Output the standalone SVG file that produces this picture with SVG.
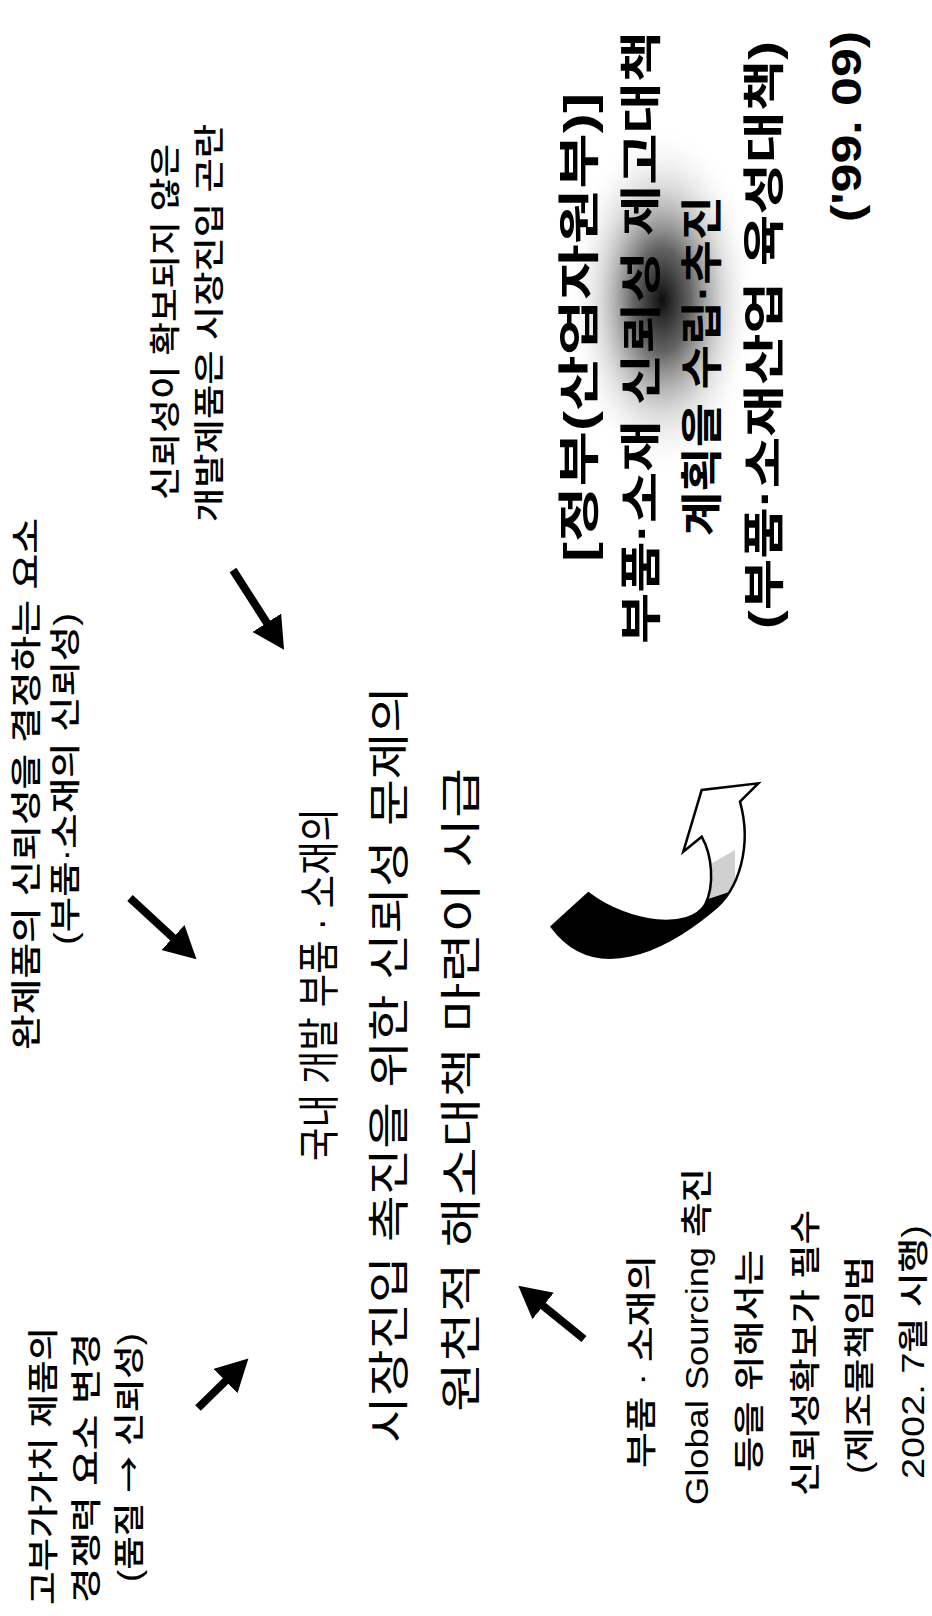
<svg xmlns="http://www.w3.org/2000/svg" width="932" height="1616" viewBox="0 0 932 1616">
<style>
  text { font-family: "Liberation Sans", "Noto Sans CJK KR", sans-serif; fill: #000; }
  .s { font-size: 31px; font-weight: 500; }
  .c { font-size: 42px; }
  .g { font-size: 42px; font-weight: 700; }
  .cjk { font-family: "Noto Sans CJK KR", sans-serif; }
  .arrow { stroke: #000; stroke-width: 8; fill: none; marker-end: url(#ah); }
</style>
<defs>
  <marker id="ah" markerUnits="userSpaceOnUse" markerWidth="34" markerHeight="36" refX="10" refY="17" orient="auto">
    <path d="M0,0 L32,17 L0,34 z" fill="#000"/>
  </marker>
  <radialGradient id="blur" cx="0.5" cy="0.5" r="0.5">
    <stop offset="0" stop-color="#000" stop-opacity="0.95"/>
    <stop offset="0.3" stop-color="#222" stop-opacity="0.7"/>
    <stop offset="0.65" stop-color="#888" stop-opacity="0.3"/>
    <stop offset="1" stop-color="#fff" stop-opacity="0"/>
  </radialGradient>
  <path id="curve" d="M683.3,851.7 L701.7,790 L758.3,783.3 L740,801.7 C752,845 740,890 712,911 C665,950 595,985 551.7,926.7 L588.3,893.3 C630,925 690,930 705,905 C715,885 712,855 701.7,836.7 Z"/>
  <clipPath id="cclip"><use href="#curve"/></clipPath>
</defs>
<rect width="932" height="1616" fill="#fff"/>

<ellipse cx="662" cy="300" rx="95" ry="175" fill="url(#blur)"/>

<g id="connectors">
  <path class="arrow" d="M130,898 L180.3,944.4"/>
  <path class="arrow" d="M233,570 L272.2,631.2"/>
  <path class="arrow" d="M198,1408 L232.7,1374"/>
  <path class="arrow" d="M584,1339 L535.4,1299.7"/>
  <g id="curved-arrow">
    <use href="#curve" fill="#fff"/>
    <g clip-path="url(#cclip)">
      <polygon points="520,860 620,860 690,905 735,890 735,1000 520,1000" fill="#000"/>
      <polygon points="690,905 735,890 735,850 700,870" fill="#777" opacity="0.35"/>
    </g>
    <use href="#curve" fill="none" stroke="#000" stroke-width="2.5" stroke-linejoin="miter"/>
  </g>
</g>

<g transform="translate(0,1616) rotate(-90)">
  <g id="n-bl">
    <text class="s" x="11" y="54" font-size="32" textLength="278" lengthAdjust="spacingAndGlyphs">고부가가치 제품의</text>
    <text class="s" x="13" y="97" font-size="32" textLength="270" lengthAdjust="spacingAndGlyphs">경쟁력 요소 변경</text>
    <text class="s" x="34" y="140" font-size="32" textLength="249" lengthAdjust="spacingAndGlyphs">(품질 <tspan class="cjk">→</tspan> 신뢰성)</text>
  </g>
  <g id="n-tl">
    <text class="s" x="566" y="37" font-size="30" textLength="532" lengthAdjust="spacingAndGlyphs">완제품의 신뢰성을 결정하는 요소</text>
    <text class="s" x="671" y="76" font-size="28" textLength="332" lengthAdjust="spacingAndGlyphs">(부품·소재의 신뢰성)</text>
  </g>
  <g id="n-tr">
    <text class="s" x="1116" y="176" font-size="29" textLength="356" lengthAdjust="spacingAndGlyphs">신뢰성이 확보되지 않은</text>
    <text class="s" x="1094" y="220" font-size="30" textLength="398" lengthAdjust="spacingAndGlyphs">개발제품은 시장진입 곤란</text>
  </g>
  <g id="n-center">
    <text class="c" x="455" y="334" textLength="353" lengthAdjust="spacingAndGlyphs">국내 개발 부품 · 소재의</text>
    <text class="c" x="173" y="404" textLength="757" lengthAdjust="spacingAndGlyphs">시장진입 촉진을 위한 신뢰성 문제의</text>
    <text class="c" x="204" y="476" textLength="644" lengthAdjust="spacingAndGlyphs">원천적 해소대책 마련이 시급</text>
  </g>
  <g id="n-gov">
    <text class="g" x="1054" y="594" textLength="469" lengthAdjust="spacingAndGlyphs">[정부(산업자원부)]</text>
    <text class="g" x="972" y="656" textLength="613" lengthAdjust="spacingAndGlyphs">부품·소재 신뢰성 제고대책</text>
    <text class="g" x="1080" y="717" textLength="340" lengthAdjust="spacingAndGlyphs">계획을 수립·추진</text>
    <text class="g" x="987" y="779" textLength="588" lengthAdjust="spacingAndGlyphs">(부품·소재산업 육성대책)</text>
    <text class="g" x="1394" y="861" textLength="191" lengthAdjust="spacingAndGlyphs">('99. 09)</text>
  </g>
  <g id="n-br">
    <text class="s" x="148" y="652" font-size="32" textLength="213" lengthAdjust="spacingAndGlyphs">부품 · 소재의</text>
    <text class="s" x="111" y="708" font-size="36" textLength="337" lengthAdjust="spacingAndGlyphs">Global Sourcing  <tspan font-size="32">촉진</tspan></text>
    <text class="s" x="144" y="760" font-size="32" textLength="222" lengthAdjust="spacingAndGlyphs">등을 위해서는</text>
    <text class="s" x="120" y="816" font-size="32" textLength="286" lengthAdjust="spacingAndGlyphs">신뢰성확보가 필수</text>
    <text class="s" x="142" y="870" font-size="32" textLength="218" lengthAdjust="spacingAndGlyphs">(제조물책임법</text>
    <text class="s" x="137" y="924" font-size="32" textLength="254" lengthAdjust="spacingAndGlyphs">2002. 7월 시행)</text>
  </g>
</g>
</svg>
